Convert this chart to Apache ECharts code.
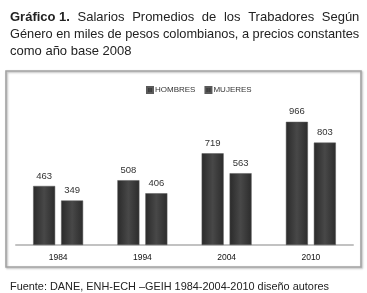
<!DOCTYPE html>
<html>
<head>
<meta charset="utf-8">
<script src="https://cdn.jsdelivr.net/npm/echarts@6/dist/echarts.min.js"></script>
<style>
  html, body { margin: 0; padding: 0; background: #fff; }
  #main { width: 367px; height: 293px; }
</style>
</head>
<body>
<div id="main"></div>
<script>
var myChart = echarts.init(document.getElementById('main'));

var years = ['1984', '1994', '2004', '2010'];
var hombres = [463, 508, 719, 966];
var mujeres = [349, 406, 563, 803];
var seriesNames = ['HOMBRES', 'MUJERES'];

// bar fill: dark grey with lighter centre
var barFill = new echarts.graphic.LinearGradient(0, 0, 1, 0, [
    { offset: 0, color: '#2a2a2a' },
    { offset: 0.5, color: '#484848' },
    { offset: 1, color: '#2c2c2c' }
]);

var labelStyle = {
    show: true,
    position: 'top',
    distance: 5,
    color: '#333',
    fontSize: 9.5,
    fontFamily: 'Liberation Sans'
};

// first title line is justified in the source, so widen the gaps between words
var line1 = ['Salarios', 'Promedios', 'de', 'los', 'Trabadores', 'Según'];
var line1Text = '{b|Gráfico 1.}{s| }' + line1.join('{s| }');

option = {
    backgroundColor: '#fff',
    animation: false,
    title: [
        {
            text: line1Text,
            left: 5, top: 6,
            textStyle: {
                fontFamily: 'Liberation Sans', fontSize: 13, fontWeight: 'normal', color: '#222',
                rich: {
                    b: { fontFamily: 'Liberation Sans', fontSize: 13, fontWeight: 'bold', color: '#222' },
                    s: { width: 7.6, fontSize: 13 }
                }
            }
        },
        {
            text: 'Género en miles de pesos colombianos, a precios constantes',
            left: 5, top: 23,
            textStyle: { fontFamily: 'Liberation Sans', fontSize: 12.8, fontWeight: 'normal', color: '#222' }
        },
        {
            text: 'como año base 2008',
            left: 5, top: 40,
            textStyle: { fontFamily: 'Liberation Sans', fontSize: 13, fontWeight: 'normal', color: '#222' }
        },
        {
            text: 'Fuente: DANE, ENH-ECH –GEIH 1984-2004-2010 diseño autores',
            left: 5, top: 276,
            textStyle: { fontFamily: 'Liberation Sans', fontSize: 10.9, fontWeight: 'normal', color: '#222' }
        }
    ],
    graphic: [
        {
            type: 'rect',
            shape: { x: 6, y: 71, width: 355, height: 196 },
            style: { fill: 'none', stroke: '#a3a3a3', lineWidth: 1.6,
                shadowBlur: 2, shadowOffsetX: 1, shadowOffsetY: 1, shadowColor: 'rgba(0,0,0,0.3)' },
            z: -1
        }
    ],
    legend: {
        data: seriesNames,
        left: 141,
        top: 81,
        icon: 'rect',
        itemWidth: 6,
        itemHeight: 6,
        itemGap: 9,
        textStyle: { fontSize: 8, color: '#333', fontFamily: 'Liberation Sans', padding: [0, 0, 0, -3] }
    },
    grid: {
        left: 16,
        right: 14,
        top: 92,
        bottom: 48
    },
    xAxis: {
        type: 'category',
        data: years,
        axisTick: { show: false },
        axisLine: { lineStyle: { color: '#c2c2c2', width: 2 } },
        axisLabel: { color: '#111', fontSize: 8.5, fontFamily: 'Liberation Sans', margin: 8 }
    },
    yAxis: {
        type: 'value',
        min: 0,
        max: 1200,
        show: false,
        splitLine: { show: false }
    },
    series: [
        {
            name: seriesNames[0],
            type: 'bar',
            data: hombres,
            barWidth: 22,
            barGap: '27%',
            itemStyle: { color: barFill, borderColor: '#5a5a5a', borderWidth: 0.5 },
            label: labelStyle
        },
        {
            name: seriesNames[1],
            type: 'bar',
            data: mujeres,
            barWidth: 22,
            itemStyle: { color: barFill, borderColor: '#5a5a5a', borderWidth: 0.5 },
            label: labelStyle
        }
    ],
    color: ['#3a3a3a', '#3a3a3a']
};

myChart.setOption(option);
</script>
</body>
</html>
